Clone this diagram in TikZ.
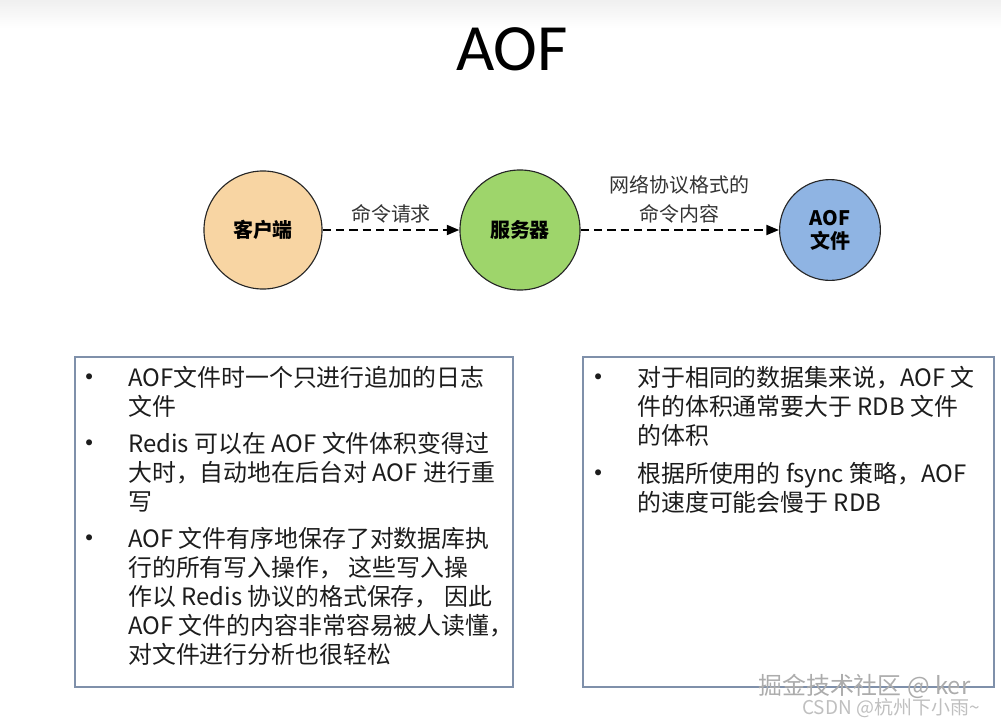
\documentclass[tikz,border=0pt]{standalone}
\usepackage{fontspec}
\setmainfont{Noto Sans CJK SC}
\newfontfamily\titlefont{Carlito}
\usetikzlibrary{
  arrows.meta,
  positioning
}
\definecolor{clientfill}{RGB}{248,213,163}
\definecolor{serverfill}{RGB}{158,213,107}
\definecolor{filefill}{RGB}{143,180,227}
\definecolor{boxline}{RGB}{127,144,170}
\definecolor{bodytext}{RGB}{28,28,28}

\begin{document}
\begin{tikzpicture}[
    x=0.025cm,
    y=-0.025cm,
    >={Triangle[length=9pt,width=7pt]},
    actor/.style={circle, draw=black!85, line width=0.8pt, inner sep=0pt,
      align=center, font=\fontsize{14.2}{16.4}\selectfont\bfseries},
    flow/.style={->, line width=1.7pt, dash pattern=on 6pt off 3.5pt},
    flowlabel/.style={align=center, text=black!80,
      font=\fontsize{14.2}{20}\selectfont},
    panel/.style={draw=boxline, line width=1pt, inner sep=0pt},
    dot/.style={anchor=base, inner sep=0pt, text=bodytext,
      font=\fontsize{20}{20.6}\selectfont},
    item/.style={anchor=base west, inner sep=0pt, align=left, text=bodytext,
      font=\fontsize{17}{20.6}\selectfont},
    watermark/.style={anchor=west, inner sep=0pt}
    ]
    
    \useasboundingbox (0,0) rectangle (1001,723);
    \shade[top color=gray!12, bottom color=white] (0,0) rectangle (1001,28);
    
    % titulo
    \node[anchor=base, inner sep=0pt, font=\titlefont\fontsize{47}{50}\selectfont]
    (title) at (512,70) {AOF};
    
    % circulos
    \node[actor, fill=clientfill, minimum size=2.95cm] (client) at (263,230)
    {客户端};
    
    \node[actor, fill=serverfill, minimum size=3cm] (server) at (520,230)
    {服务器};
    
    \node[actor, fill=filefill, minimum size=2.52cm] (aoffile) at (830,230)
    {AOF\\文件};
    
    % setas
    \draw[flow] (client) -- node[flowlabel, above=1pt] (reqlabel)
    {命令请求} (server);
    
    \draw[flow] (server) -- node[flowlabel, above=1pt] (protolabel)
    {网络协议格式的\\命令内容} (aoffile);
    
    % caixa esquerda (itens ancorados na linha de base da ultima linha)
    \node[panel, minimum width=10.95cm, minimum height=8.25cm] (leftbox)
    at (294,522) {};
    
    \node[dot] (dotA) at (90,387) {•};
    \node[item] (itemA) at (128,415)
    {AOF文件时一个只进行追加的日志\\文件};
    
    \node[dot] (dotB) at (90,453) {•};
    \node[item] (itemB) at (128,510)
    {Redis 可以在 AOF 文件体积变得过\\大时，自动地在后台对 AOF 进行重\\写};
    
    \node[dot] (dotC) at (90,548) {•};
    \node[item] (itemC) at (128,663)
    {AOF 文件有序地保存了对数据库执\\行的所有写入操作， 这些写入操\\作以 Redis 协议的格式保存， 因此\\AOF 文件的内容非常容易被人读懂，\\对文件进行分析也很轻松};
    
    % caixa direita
    \node[panel, minimum width=10.275cm, minimum height=8.25cm] (rightbox)
    at (788.5,522) {};
    
    \node[dot] (dotD) at (599,387) {•};
    \node[item] (itemD) at (637,444)
    {对于相同的数据集来说，AOF 文\\件的体积通常要大于 RDB 文件\\的体积};
    
    \node[dot] (dotE) at (599,483) {•};
    \node[item] (itemE) at (637,511)
    {根据所使用的 fsync 策略，AOF\\的速度可能会慢于 RDB};
    
    % marcas
    \node[watermark, text=gray!65, font=\fontsize{17}{20}\selectfont]
    (juejin) at (758,686) {掘金技术社区 @ ker};
    
    \node[watermark, text=gray!50, font=\fontsize{13.5}{16}\selectfont]
    (csdn) at (802,708) {CSDN @杭州下小雨\textasciitilde};
    
\end{tikzpicture}
\end{document}
